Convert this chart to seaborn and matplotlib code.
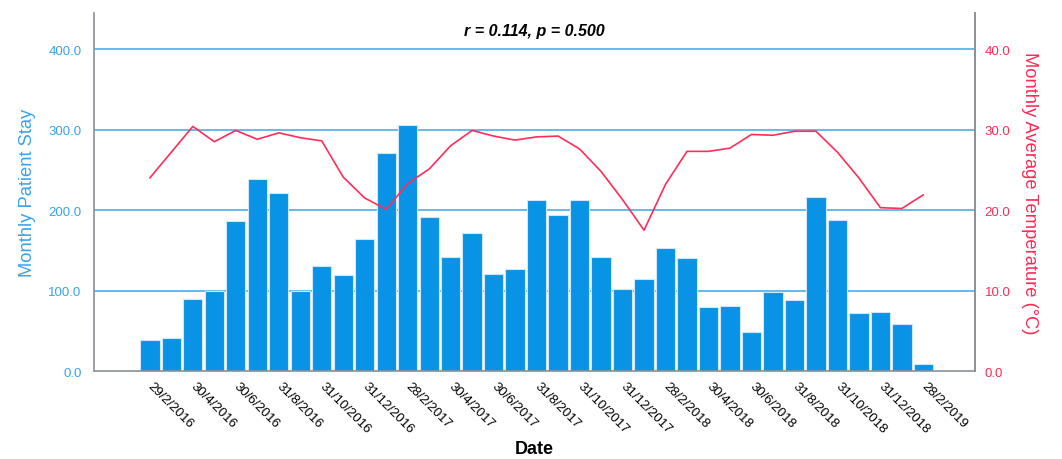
import numpy as np
import pandas as pd
import matplotlib
matplotlib.use("Agg")
import matplotlib.pyplot as plt
import seaborn as sns

# month-end dates, Feb 2016 .. Feb 2019
months = pd.date_range("2016-02-29", periods=37, freq="ME")
date_labels = [f"{d.day}/{d.month}/{d.year}" for d in months]

patient_stay = [38, 41, 90, 99, 187, 239, 221, 99, 131, 119, 164, 271, 306,
                191, 142, 171, 121, 127, 213, 194, 213, 142, 102, 114, 153,
                140, 80, 81, 48, 98, 88, 216, 188, 72, 73, 58, 9]

avg_temp = [24.0, 27.2, 30.4, 28.5, 29.9, 28.8, 29.6, 29.0, 28.6, 24.1, 21.5,
            20.1, 23.3, 25.1, 28.0, 29.9, 29.2, 28.7, 29.1, 29.2, 27.6, 24.8,
            21.3, 17.5, 23.2, 27.3, 27.3, 27.7, 29.4, 29.3, 29.8, 29.8, 27.2,
            24.0, 20.3, 20.2, 21.9]

stats_text = "r = 0.114, p = 0.500"

bar_color = "#0893e6"
line_color = "#ff2d5a"
left_color = "#3aa2ec"
right_color = "#ff2a55"
grid_color = "#3ea6ea"

sns.set_style("white")
plt.rcParams["font.family"] = ["Liberation Sans", "DejaVu Sans"]
plt.rcParams["text.color"] = "black"

fig = plt.figure(figsize=(10.62, 4.6), dpi=100)
ax = fig.add_axes([0.0885, 0.1913, 0.8295, 0.7783])

df = pd.DataFrame({"Date": date_labels, "Stay": patient_stay, "Temp": avg_temp})
sns.barplot(data=df, x="Date", y="Stay", color=bar_color, saturation=1,
            width=0.9, edgecolor="#cfe7f8", linewidth=0.8, ax=ax, zorder=2)

ax.set_xlim(-2.6, 38.4)
ax.set_ylim(0, 445)
ax.set_yticks([0, 100, 200, 300, 400])
ax.set_yticklabels([f"{v:.1f}" for v in [0, 100, 200, 300, 400]],
                   color=left_color, fontsize=9.5)
for v in [100, 200, 300, 400]:
    ax.axhline(v, color=grid_color, lw=1.1, zorder=1)

tick_pos = list(range(0, len(date_labels), 2))
ax.set_xticks(tick_pos)
ax.set_xticklabels([date_labels[i] for i in tick_pos], rotation=-45,
                   ha="left", va="center", rotation_mode="anchor",
                   fontsize=9.5, color="black")
ax.tick_params(axis="x", length=0, pad=9)
ax.tick_params(axis="y", length=0, pad=9)
ax.set_xlabel("Date", fontsize=13, fontweight="bold", labelpad=4,
              color="black")
ax.set_ylabel("Monthly Patient Stay", fontsize=13.2, color=left_color,
              labelpad=9)

for side in ["left", "bottom", "right"]:
    ax.spines[side].set_color("#8a9097")
    ax.spines[side].set_linewidth(1.2)
ax.spines["top"].set_visible(False)

ax2 = ax.twinx()
sns.lineplot(x=np.arange(len(avg_temp)), y=avg_temp, color=line_color,
             lw=1.2, ax=ax2, zorder=3)
ax2.set_ylim(0, 44.5)
ax2.set_xlim(-2.6, 38.4)
ax2.set_yticks([0, 10, 20, 30, 40])
ax2.set_yticklabels([f"{v:.1f}" for v in [0, 10, 20, 30, 40]],
                    color=right_color, fontsize=9.5)
ax2.tick_params(axis="y", length=0, pad=7)
ax2.set_ylabel("Monthly Average Temperature (°C)", fontsize=13.2,
               color=right_color, rotation=270, labelpad=20)
for side in ["top", "left", "bottom"]:
    ax2.spines[side].set_visible(False)
ax2.spines["right"].set_color("#8a9097")
ax2.spines["right"].set_linewidth(1.2)

ax.text(0.5, 0.95, stats_text, transform=ax.transAxes, ha="center",
        va="center", fontsize=11.5, fontweight="bold", style="italic",
        color="black")

fig.savefig("out.png", dpi=100)
